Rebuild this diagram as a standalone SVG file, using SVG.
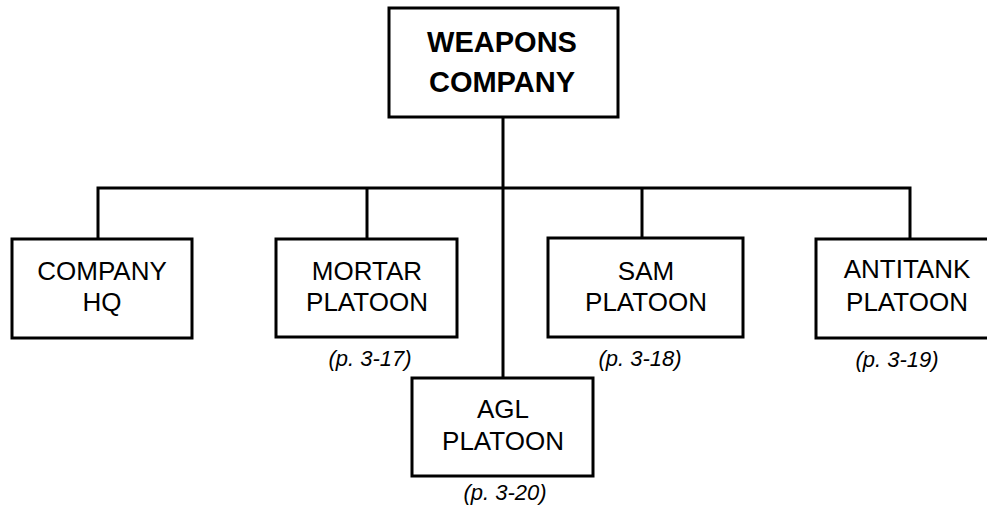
<svg xmlns="http://www.w3.org/2000/svg" width="987" height="508" viewBox="0 0 987 508">
<style>
.box{fill:#fff;stroke:#000;stroke-width:3}
.ln{fill:none;stroke:#000;stroke-width:3}
.t{font-family:"Liberation Sans",Arial,sans-serif;font-size:26px;text-anchor:middle;fill:#000}
.tb{font-family:"Liberation Sans",Arial,sans-serif;font-size:29px;font-weight:bold;text-anchor:middle;fill:#000}
.p{font-family:"Liberation Sans",Arial,sans-serif;font-size:22px;font-style:italic;text-anchor:middle;fill:#000}
</style>
<rect width="987" height="508" fill="#fff"/>
<g id="connectors">
<line class="ln" x1="503" y1="117" x2="503" y2="378"/>
<polyline class="ln" points="98,239 98,188 910,188 910,239"/>
<line class="ln" x1="367" y1="188" x2="367" y2="239"/>
<line class="ln" x1="642" y1="188" x2="642" y2="239"/>
</g>
<g id="weapons-company">
<rect class="box" x="389" y="8" width="229" height="109"/>
<text class="tb" x="502" y="52">WEAPONS</text>
<text class="tb" x="502" y="92">COMPANY</text>
</g>
<g id="company-hq">
<rect class="box" x="12" y="239" width="180" height="99"/>
<text class="t" x="102" y="280">COMPANY</text>
<text class="t" x="102" y="311">HQ</text>
</g>
<g id="mortar-platoon">
<rect class="box" x="276" y="239" width="181" height="98"/>
<text class="t" x="367" y="280">MORTAR</text>
<text class="t" x="367" y="311">PLATOON</text>
<text class="p" x="370" y="366">(p. 3-17)</text>
</g>
<g id="sam-platoon">
<rect class="box" x="548" y="238" width="195" height="99"/>
<text class="t" x="646" y="280">SAM</text>
<text class="t" x="646" y="311">PLATOON</text>
<text class="p" x="640" y="366">(p. 3-18)</text>
</g>
<g id="antitank-platoon">
<rect class="box" x="816" y="239" width="185" height="99"/>
<text class="t" x="907" y="278">ANTITANK</text>
<text class="t" x="907" y="311">PLATOON</text>
<text class="p" x="897" y="367">(p. 3-19)</text>
</g>
<g id="agl-platoon">
<rect class="box" x="412" y="378" width="181" height="98"/>
<text class="t" x="503" y="418">AGL</text>
<text class="t" x="503" y="450">PLATOON</text>
<text class="p" x="505" y="500">(p. 3-20)</text>
</g>
</svg>
